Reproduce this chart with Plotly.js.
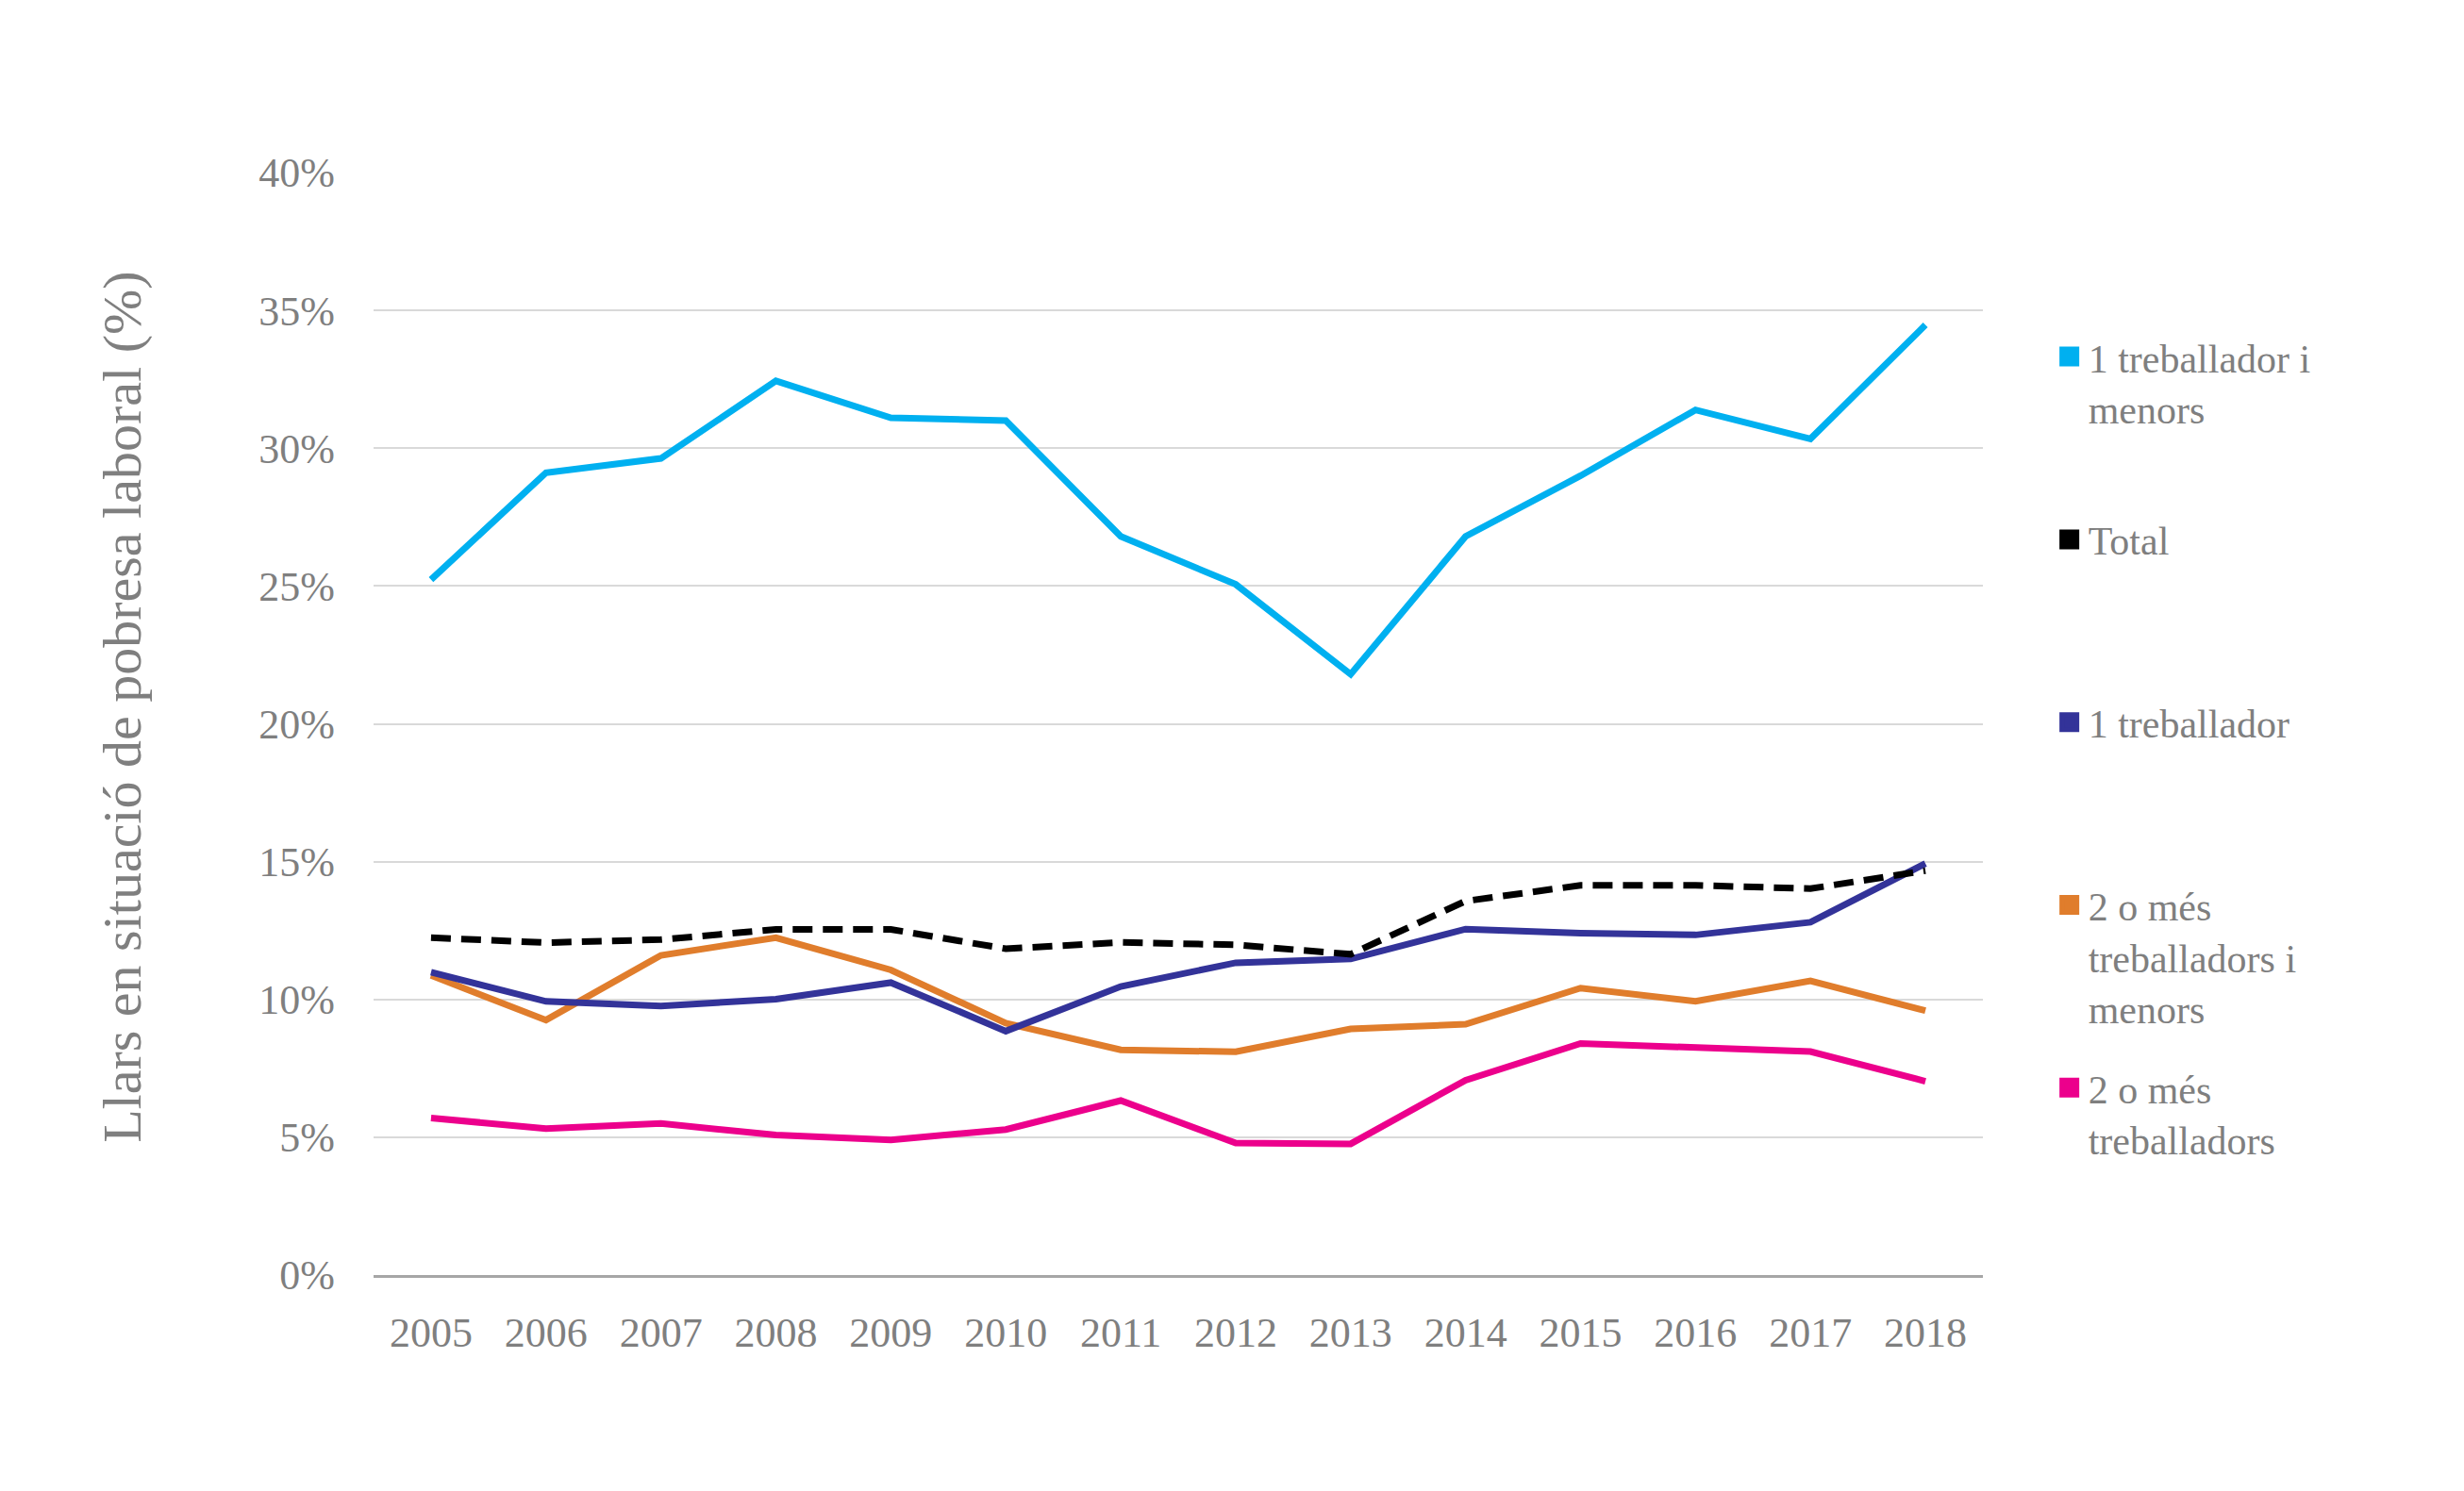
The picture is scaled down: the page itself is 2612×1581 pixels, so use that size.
<!DOCTYPE html>
<html>
<head>
<meta charset="utf-8">
<script src="https://cdn.plot.ly/plotly-3.0.1.min.js"></script>
<style>html,body{margin:0;padding:0;background:#fff;}#chart{width:2612px;height:1581px;}</style>
</head>
<body>
<div id="chart"></div>
<script>
const years = ["2005","2006","2007","2008","2009","2010","2011","2012","2013","2014","2015","2016","2017","2018"];
const unTreballadorMenors = [25.23, 29.11, 29.63, 32.44, 31.10, 31.00, 26.80, 25.06, 21.80, 26.80, 29.00, 31.39, 30.34, 34.47];
const total = [12.24, 12.06, 12.17, 12.54, 12.54, 11.84, 12.07, 11.98, 11.64, 13.57, 14.14, 14.14, 14.02, 14.67];
const unTreballador = [10.99, 9.93, 9.76, 10.01, 10.61, 8.85, 10.47, 11.33, 11.47, 12.55, 12.40, 12.34, 12.80, 14.93];
const dosTreballadorsMenors = [10.87, 9.25, 11.60, 12.24, 11.07, 9.14, 8.17, 8.10, 8.93, 9.10, 10.41, 9.93, 10.67, 9.59];
const dosTreballadors = [5.70, 5.31, 5.50, 5.08, 4.90, 5.28, 6.33, 4.79, 4.76, 7.07, 8.40, 8.26, 8.11, 7.03];

const yTicks = [0, 5, 10, 15, 20, 25, 30, 35, 40];
const yTitle = "Llars en situació de pobresa laboral (%)";

const seriesNames = [
  "1 treballador i menors",
  "Total",
  "1 treballador",
  "2 o més treballadors i menors",
  "2 o més treballadors"
];
const legendLabels = [
  "1 treballador i<br>menors<br>\u00a0",
  "Total<br>\u00a0<br>\u00a0",
  "1 treballador<br>\u00a0<br>\u00a0",
  "2 o més<br>treballadors i<br>menors",
  "2 o més<br>treballadors<br>\u00a0"
];
const seriesData = [unTreballadorMenors, total, unTreballador, dosTreballadorsMenors, dosTreballadors];
const colors = ["#00B0F0", "#000000", "#333399", "#E07D2C", "#EC008C"];
const dashes = ["solid", "21px,11px", "solid", "solid", "solid"];

const FONT = "Liberation Serif, Times New Roman, serif";
const GREY = "#7F7F7F";

const traces = [];
const drawOrder = [0, 4, 3, 2, 1];
drawOrder.forEach(i => {
  traces.push({
    type: "scatter", mode: "lines", x: years, y: seriesData[i], name: seriesNames[i],
    line: {color: colors[i], width: 7, dash: dashes[i]},
    showlegend: false, hoverinfo: "skip", cliponaxis: false
  });
});
for (let i = 0; i < seriesNames.length; i++) {
  traces.push({
    type: "scatter", mode: "markers", x: [null], y: [null], name: legendLabels[i],
    legendgroup: "g" + i, legendrank: i + 1,
    marker: {symbol: "square", size: 16, color: colors[i], line: {color: colors[i], width: 5}},
    showlegend: true, hoverinfo: "skip"
  });
}

const layout = {
  width: 2612, height: 1581,
  paper_bgcolor: "#ffffff", plot_bgcolor: "#ffffff",
  margin: {l: 396, r: 510, t: 183, b: 229, pad: 0},
  font: {family: FONT, color: GREY, size: 42},
  showlegend: true,
  legend: {
    x: 1.042, xanchor: "left", y: 0.862, yanchor: "top",
    font: {family: FONT, size: 42, color: GREY},
    valign: "top", tracegroupgap: 27, itemsizing: "trace",
    traceorder: "grouped", bgcolor: "rgba(0,0,0,0)"
  },
  xaxis: {
    type: "category", categoryorder: "array", categoryarray: years,
    range: [-0.5, 13.5],
    showgrid: false, zeroline: false,
    showline: true, linecolor: "#A6A6A6", linewidth: 3,
    ticks: "", ticklabelstandoff: 20,
    tickfont: {family: FONT, size: 44, color: GREY},
    fixedrange: true
  },
  yaxis: {
    range: [0, 40], tickvals: yTicks, ticktext: yTicks.map(v => v + "%"),
    showgrid: true, gridcolor: "#D9D9D9", gridwidth: 2,
    zeroline: false, showline: false, ticks: "", ticklabelstandoff: 40,
    tickfont: {family: FONT, size: 44, color: GREY},
    fixedrange: true
  },
  annotations: [{
    text: yTitle, xref: "paper", yref: "paper", x: -0.156, y: 0.515,
    xanchor: "center", yanchor: "middle", textangle: -90, showarrow: false,
    font: {family: FONT, size: 58, color: GREY}
  }]
};

Plotly.newPlot("chart", traces, layout, {staticPlot: true, displayModeBar: false});
</script>
</body>
</html>
